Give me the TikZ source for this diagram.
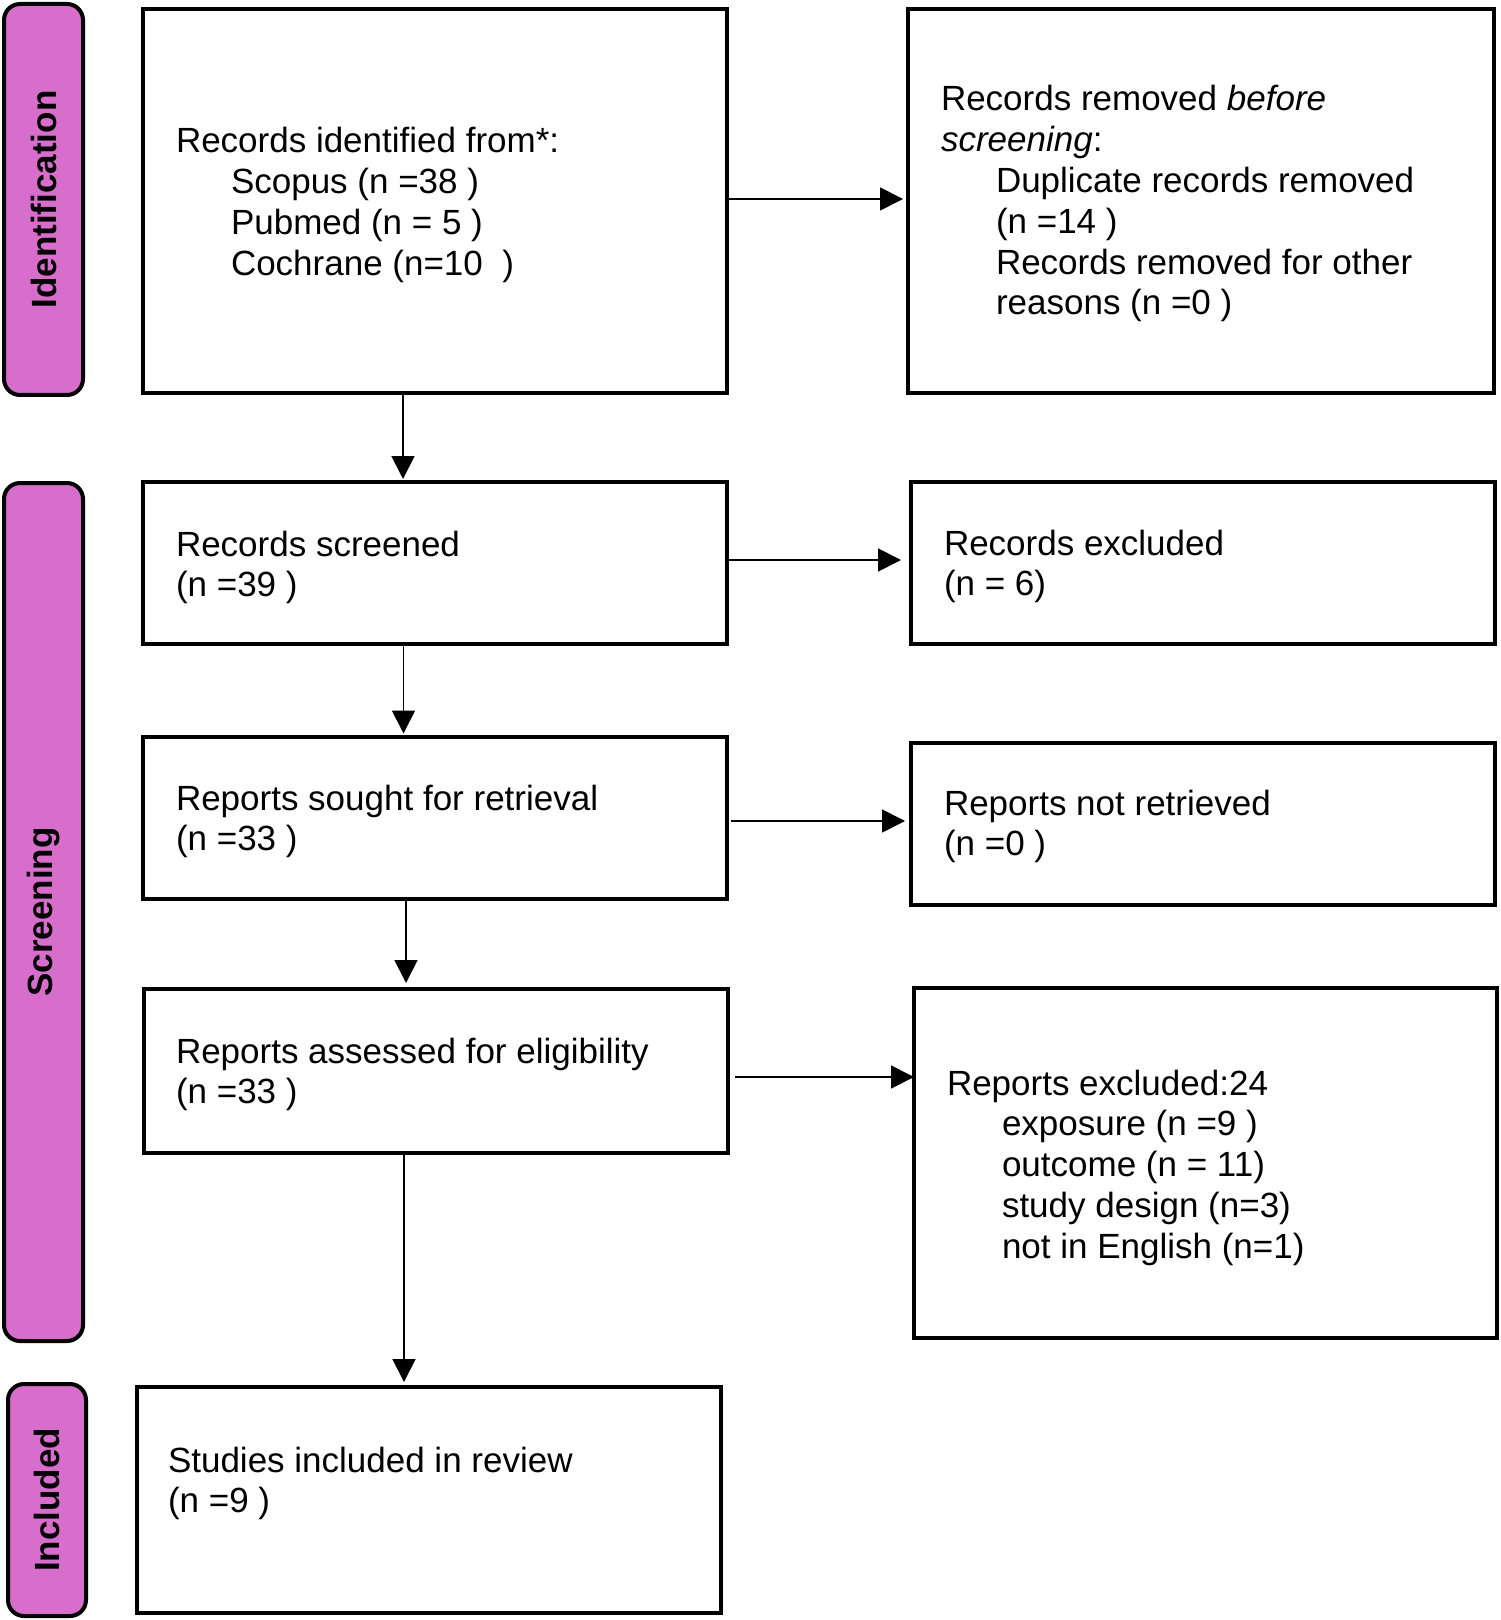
\documentclass[tikz,border=0pt]{standalone}
\usepackage{fontspec}
\setmainfont{Liberation Sans}
\usetikzlibrary{arrows.meta}
\definecolor{pillfill}{RGB}{216,110,204}
\newcommand{\myind}{\hspace*{27.5pt}}
\begin{document}
\begin{tikzpicture}[x=0.5pt,y=-0.5pt,
  box/.style={draw=black, line width=1.7pt, inner sep=0pt, outer sep=0pt, anchor=north west, fill=white},
  pill/.style={draw=black, fill=pillfill, line width=2pt, rounded corners=8pt, inner sep=0pt, outer sep=0pt, anchor=north west},
  plabel/.style={rotate=90, font=\fontsize{17.5}{20}\selectfont\bfseries, inner sep=0pt},
  txt/.style={anchor=base west, inner sep=0pt, outer sep=0pt, font=\fontsize{17.5}{20.4}\selectfont},
  arr/.style={draw=black, line width=0.9pt, -{Triangle[length=11.5pt,width=11.5pt]}}
]
\useasboundingbox (0,0) rectangle (1500,1620);

% phase pills
\node[pill, minimum width=39.5pt, minimum height=195.5pt] (p1) at (4,4) {};
\node[pill, minimum width=39.5pt, minimum height=429pt] (p2) at (4,483) {};
\node[pill, minimum width=39pt, minimum height=116pt] (p3) at (8,1384) {};
\node[plabel] (l1) at (p1.center) {Identification};
\node[plabel] (l2) at (p2.center) {Screening};
\node[plabel] (l3) at (p3.center) {Included};

% boxes
\node[box, minimum width=292pt, minimum height=192pt] (b1) at (143,9) {};
\node[box, minimum width=293pt, minimum height=192pt] (b2) at (908,9) {};
\node[box, minimum width=292pt, minimum height=81pt] (b3) at (143,482) {};
\node[box, minimum width=292pt, minimum height=81pt] (b4) at (911,482) {};
\node[box, minimum width=292pt, minimum height=81pt] (b5) at (143,737) {};
\node[box, minimum width=292pt, minimum height=81pt] (b6) at (911,743) {};
\node[box, minimum width=292pt, minimum height=82pt] (b7) at (144,989) {};
\node[box, minimum width=291.5pt, minimum height=175pt] (b8) at (914,988) {};
\node[box, minimum width=292pt, minimum height=113pt] (b9) at (137,1387) {};

% texts
\node[txt] (t1) at (176,153) {\vtop{\hbox{Records identified from*:}\hbox{\myind Scopus (n =38 )}\hbox{\myind Pubmed (n = 5 )}\hbox{\myind Cochrane (n=10\ \ )}}};
\node[txt] (t2) at (941,111) {\vtop{\hbox{Records removed \textit{before}}\hbox{\textit{screening}:}\hbox{\myind Duplicate records removed}\hbox{\myind (n =14 )}\hbox{\myind Records removed for other}\hbox{\myind reasons (n =0 )}}};
\node[txt] (t3) at (176,556) {\vtop{\hbox{Records screened}\hbox{(n =39 )}}};
\node[txt] (t4) at (944,555) {\vtop{\hbox{Records excluded}\hbox{(n = 6)}}};
\node[txt] (t5) at (176,810) {\vtop{\hbox{Reports sought for retrieval}\hbox{(n =33 )}}};
\node[txt] (t6) at (944,815) {\vtop{\hbox{Reports not retrieved}\hbox{(n =0 )}}};
\node[txt] (t7) at (176,1063) {\vtop{\hbox{Reports assessed for eligibility}\hbox{(n =33 )}}};
\node[txt] (t8) at (947,1095) {\vtop{\hbox{Reports excluded:24}\hbox{\myind exposure (n =9 )}\hbox{\myind outcome (n = 11)}\hbox{\myind study design (n=3)}\hbox{\myind not in English (n=1)}}};
\node[txt] (t9) at (168,1472) {\vtop{\hbox{Studies included in review}\hbox{(n =9 )}}};

% arrow columns
\coordinate (c1) at (403,0);
\coordinate (c2) at (403.5,0);
\coordinate (c3) at (406,0);
\coordinate (c4) at (404,0);

% horizontal arrows
\draw[arr, shorten >=2.5pt] ([yshift=1pt]b1.east) -- ([yshift=1pt]b1.east -| b2.west);
\draw[arr, shorten >=5pt] ([yshift=1.5pt]b3.east) -- ([yshift=1.5pt]b3.east -| b4.west);
\draw[arr, shorten <=2pt, shorten >=3pt] ([yshift=-1.5pt]b5.east) -- ([yshift=-1.5pt]b5.east -| b6.west);
\draw[arr, shorten <=3.5pt] ([yshift=-3pt]b7.east) -- ([yshift=-3pt]b7.east -| b8.west);

% vertical arrows
\draw[arr, shorten >=1.5pt] (b1.south -| c1) -- (b3.north -| c1);
\draw[arr, shorten >=1.75pt] (b3.south -| c2) -- (b5.north -| c2);
\draw[arr, shorten >=3pt] (b5.south -| c3) -- (b7.north -| c3);
\draw[arr, shorten >=2.5pt] (b7.south -| c4) -- (b9.north -| c4);
\end{tikzpicture}
\end{document}
